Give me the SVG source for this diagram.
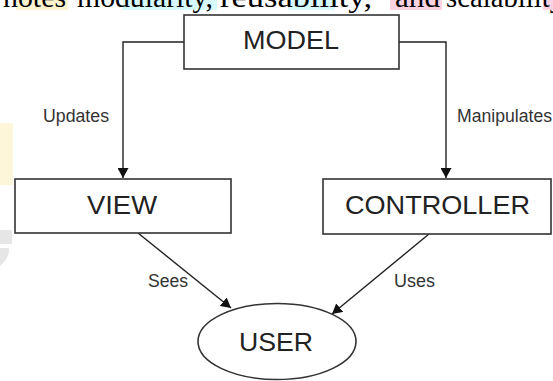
<svg xmlns="http://www.w3.org/2000/svg" width="553" height="381" viewBox="0 0 553 381">
<style>
.box{fill:#fff;stroke:#333;stroke-width:1.6}
.main{font-family:"Liberation Sans",Arial,sans-serif;font-size:25px;fill:#222;text-anchor:middle}
.lbl{font-family:"Liberation Sans",Arial,sans-serif;font-size:17.5px;fill:#333}
.conn{fill:none;stroke:#222;stroke-width:1.4}
.top{font-family:"Liberation Serif","Times New Roman",serif;font-size:30px;fill:#000}
</style>
<defs>
<marker id="arr" markerUnits="userSpaceOnUse" markerWidth="11" markerHeight="11" refX="10" refY="5.5" orient="auto">
<path d="M0,0 L10,5.5 L0,11 z" fill="#111"/>
</marker>
</defs>
<rect width="553" height="381" fill="#fff"/>
<g id="background">
<rect x="16" y="0" width="52" height="10" fill="#fdf4cf"/>
<rect x="123" y="0" width="94" height="10" fill="#d7fafc"/>
<rect x="288" y="0" width="47" height="10" fill="#d7fafc"/>
<rect x="390" y="0" width="52" height="10" fill="#fbd3e0"/>
<rect x="543" y="0" width="10" height="10" fill="#fbd3e0"/>
<rect x="0" y="123" width="13" height="62" fill="#fdf6d8"/>
<path d="M0,230 H12 V244 H0 Z M0,248 H9 Q10,258 0,266 Z" fill="#e6e6e6"/>
<text class="top" x="3" y="7" textLength="63" lengthAdjust="spacingAndGlyphs">notes</text>
<text class="top" x="77" y="7" textLength="136" lengthAdjust="spacingAndGlyphs">modularity,</text>
<text class="top" x="220" y="7" textLength="152" lengthAdjust="spacingAndGlyphs">reusability,</text>
<text class="top" x="395" y="7" textLength="45" lengthAdjust="spacingAndGlyphs">and</text>
<text class="top" x="446" y="7" textLength="118" lengthAdjust="spacingAndGlyphs">scalability</text>
</g>
<g id="connectors">
<path class="conn" d="M184,42 H123 V178" marker-end="url(#arr)"/>
<path class="conn" d="M399,42 H446 V178" marker-end="url(#arr)"/>
<path class="conn" d="M138,233 L231,308" marker-end="url(#arr)"/>
<path class="conn" d="M429,234 L332,314" marker-end="url(#arr)"/>
<text class="lbl" x="43" y="122" textLength="66" lengthAdjust="spacingAndGlyphs">Updates</text>
<text class="lbl" x="457" y="122" textLength="95" lengthAdjust="spacingAndGlyphs">Manipulates</text>
<text class="lbl" x="148" y="287" textLength="40" lengthAdjust="spacingAndGlyphs">Sees</text>
<text class="lbl" x="394" y="287" textLength="41" lengthAdjust="spacingAndGlyphs">Uses</text>
</g>
<g id="model">
<rect class="box" x="184" y="15" width="215" height="54"/>
<text class="main" x="291" y="49" textLength="96" lengthAdjust="spacingAndGlyphs">MODEL</text>
</g>
<g id="view">
<rect class="box" x="15" y="179" width="216" height="54"/>
<text class="main" x="122" y="214" textLength="70" lengthAdjust="spacingAndGlyphs">VIEW</text>
</g>
<g id="controller">
<rect class="box" x="323" y="179" width="228" height="55"/>
<text class="main" x="437.5" y="214" textLength="185" lengthAdjust="spacingAndGlyphs">CONTROLLER</text>
</g>
<g id="user">
<ellipse class="box" cx="277" cy="341.5" rx="79" ry="38"/>
<text class="main" x="276" y="351" textLength="74" lengthAdjust="spacingAndGlyphs">USER</text>
</g>
</svg>
